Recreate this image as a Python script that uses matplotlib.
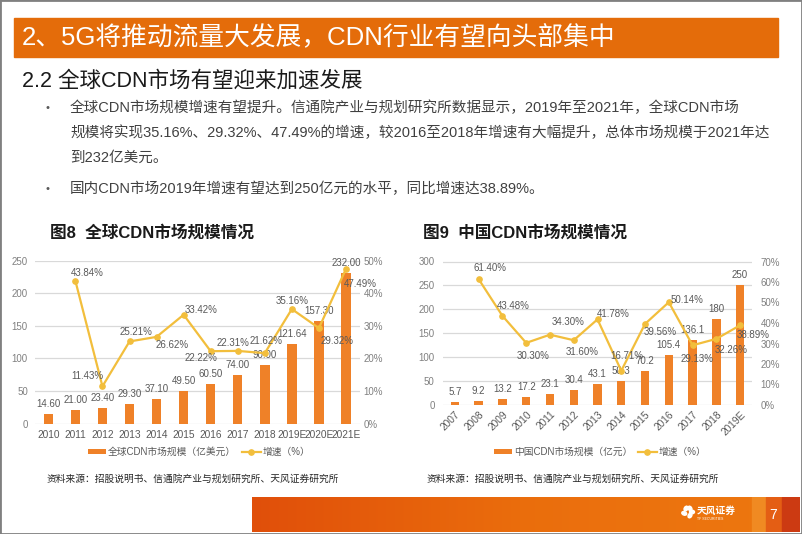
import matplotlib
matplotlib.use('Agg')
import matplotlib.pyplot as plt
from matplotlib.patches import Rectangle, Ellipse
from matplotlib.lines import Line2D
from matplotlib.ticker import FuncFormatter
import numpy as np

plt.rcParams['font.family'] = ['Liberation Sans', 'Noto Sans CJK SC']

# ---------------- data ----------------
global_years = ['2010', '2011', '2012', '2013', '2014', '2015', '2016', '2017',
                '2018', '2019E', '2020E', '2021E']
global_size = [14.60, 21.00, 23.40, 29.30, 37.10, 49.50, 60.50, 74.00, 90.00,
               121.64, 157.30, 232.00]
global_growth = [None, 43.84, 11.43, 25.21, 26.62, 33.42, 22.22, 22.31, 21.62,
                 35.16, 29.32, 47.49]

china_years = ['2007', '2008', '2009', '2010', '2011', '2012', '2013', '2014',
               '2015', '2016', '2017', '2018', '2019E']
china_size = [5.7, 9.2, 13.2, 17.2, 23.1, 30.4, 43.1, 50.3, 70.2, 105.4, 136.1,
              180, 250]
china_growth = [None, 61.40, 43.48, 30.30, 34.30, 31.60, 41.78, 16.71, 39.56,
                50.14, 29.13, 32.26, 38.89]

global_bar_label = '全球CDN市场规模（亿美元）'
china_bar_label = '中国CDN市场规模（亿元）'
growth_label = '增速（%）'

# label offsets in pixels (dx right, dy down)
global_off = [None, (12, -7.5), (-15.5, -10), (6, -9), (15.7, 8.3), (17.7, -4.7),
              (-9.3, 6.4), (-4.7, -8.3), (1.7, -12), (0, -8), (17.7, 13), (14, 14.6)]
china_off = [None, (11, -11), (11, -10), (7, 13), (18, -13), (8, 12), (16, -5),
             (5.5, -15), (15, 8.5), (18.5, -2), (4, 14), (15, 11), (13, 10)]

W, H = 802, 534
BAR = '#EF8128'
LINE = '#F2BE3C'
GRID = '#D9D9D9'
LBL = '#595959'
TICK = '#808080'


def fx(x):
    return x / W


def fy(y):
    return 1 - y / H


fig = plt.figure(figsize=(W / 100, H / 100), dpi=100)
fig.patch.set_facecolor('white')

# --------- header ----------
fig.patches.append(Rectangle((fx(14), fy(57)), (778 - 14) / W, (57 - 18) / H,
                             transform=fig.transFigure, color='#E46C0A', zorder=0))
fig.text(fx(22), fy(38), '2、5G将推动流量大发展，CDN行业有望向头部集中', color='white',
         fontsize=18.5, va='center', ha='left')
fig.text(fx(22), fy(81), '2.2 全球CDN市场有望迎来加速发展', color='#1a1a1a',
         fontsize=15.5, va='center', ha='left')

body = [
    (108, True, '全球CDN市场规模增速有望提升。信通院产业与规划研究所数据显示，2019年至2021年，全球CDN市场'),
    (133, False, '规模将实现35.16%、29.32%、47.49%的增速，较2016至2018年增速有大幅提升，总体市场规模于2021年达'),
    (158, False, '到232亿美元。'),
    (189, True, '国内CDN市场2019年增速有望达到250亿元的水平，同比增速达38.89%。'),
]
for y, bullet, txt in body:
    if bullet:
        fig.text(fx(47), fy(y), '•', color='#595959', fontsize=8, va='center', ha='center')
    fig.text(fx(70), fy(y), txt, color='#404040', fontsize=10.5, va='center', ha='left')

fig.text(fx(50), fy(233), '图8  全球CDN市场规模情况', fontsize=12, fontweight='bold',
         va='center', ha='left', color='#1a1a1a')
fig.text(fx(423), fy(233), '图9  中国CDN市场规模情况', fontsize=12, fontweight='bold',
         va='center', ha='left', color='#1a1a1a')


def make_chart(rect, years, sizes, growth, offs, ymax, ystep, pmax, pstep,
               bar_label, legend_xy, size_fmt, rotate, lpad, rpad, xpad):
    ax = fig.add_axes(rect)
    x = np.arange(len(years))
    bars = ax.bar(x, sizes, width=0.35, color=BAR, zorder=2, label=bar_label)
    ax.set_xlim(-0.5, len(years) - 0.5)
    ax.set_ylim(0, ymax)
    ax.set_yticks(np.arange(0, ymax + 1, ystep))
    ax.yaxis.grid(True, color=GRID, lw=0.9)
    ax.set_axisbelow(True)
    for s in ax.spines.values():
        s.set_visible(False)
    ax.tick_params(axis='y', length=0, labelsize=7, colors=TICK, pad=lpad)
    ax.set_xticks(x)
    if rotate:
        ax.set_xticklabels(years, rotation=45, ha='right', rotation_mode='anchor')
    else:
        ax.set_xticklabels(years)
    ax.tick_params(axis='x', length=0, labelsize=7.3, colors=LBL, pad=xpad)
    for xi, v in zip(x, sizes):
        ax.annotate(size_fmt(v), (xi, v), xytext=(0, 10), textcoords='offset pixels',
                    ha='center', va='center', fontsize=7, color=LBL)

    ax2 = ax.twinx()
    gx = [xi for xi, g in zip(x, growth) if g is not None]
    gy = [g / 100 for g in growth if g is not None]
    ln, = ax2.plot(gx, gy, color=LINE, lw=1.6, marker='o', markersize=3.8, zorder=3,
                   label=growth_label)
    ax2.set_ylim(0, pmax)
    ax2.set_yticks(np.arange(0, pmax + 1e-9, pstep))
    ax2.yaxis.set_major_formatter(FuncFormatter(lambda v, p: f'{v * 100:.0f}%'))
    for s in ax2.spines.values():
        s.set_visible(False)
    ax2.tick_params(axis='y', length=0, labelsize=7, colors=TICK, pad=rpad)
    for xi, g, off in zip(x, growth, offs):
        if g is None:
            continue
        ax2.annotate(f'{g:.2f}%', (xi, g / 100), xytext=(off[0], -off[1]),
                     textcoords='offset pixels', ha='center', va='center',
                     fontsize=7, color=LBL)
    ax2.legend([bars, ln], [bar_label, growth_label], loc='center',
               bbox_to_anchor=(fx(legend_xy[0]), fy(legend_xy[1])),
               bbox_transform=fig.transFigure, ncol=2, frameon=False, fontsize=7,
               handlelength=1.9, handleheight=0.55, handletextpad=0.2,
               columnspacing=0.6, labelcolor=LBL)
    return ax, ax2


make_chart([fx(34.8), fy(423.5), (359.5 - 34.8) / W, (423.5 - 260.8) / H],
           global_years, global_size, global_growth, global_off, 250, 50, 0.5, 0.1,
           global_bar_label, (199, 452), lambda v: f'{v:.2f}', False, 5, 3, 4.5)
make_chart([fx(443), fy(405), (752 - 443) / W, (405 - 261.5) / H],
           china_years, china_size, china_growth, china_off, 300, 50, 0.7, 0.1,
           china_bar_label, (600, 452), lambda v: f'{v:g}', True, 6, 6, 3)

src = '资料来源：招股说明书、信通院产业与规划研究所、天风证券研究所'
fig.text(fx(47), fy(479), src, fontsize=7, color='#262626', va='center', ha='left')
fig.text(fx(427), fy(479), src, fontsize=7, color='#262626', va='center', ha='left')

# --------- footer ----------
fax = fig.add_axes([fx(252), fy(532), (800 - 252) / W, (532 - 497) / H])
t = np.linspace(0, 1, 300)
c0 = np.array([0.88, 0.31, 0.04])
c1 = np.array([0.92, 0.43, 0.05])
c2 = np.array([0.93, 0.47, 0.06])
grad = np.where(t[:, None] < 0.5, c0 + (c1 - c0) * (t[:, None] / 0.5),
                c1 + (c2 - c1) * ((t[:, None] - 0.5) / 0.5))
fax.imshow(grad[None, :, :], aspect='auto', extent=(252, 800, 532, 497))
fax.add_patch(Rectangle((752, 497), 14, 35, color='#F08A22'))
fax.add_patch(Rectangle((766, 497), 16, 35, color='#E45E14'))
fax.add_patch(Rectangle((782, 497), 18, 35, color='#CC3A12'))
fax.set_xlim(252, 800)
fax.set_ylim(532, 497)
fax.axis('off')
# logo
for ang in (0, 60, 120, 200, 300):
    r = np.deg2rad(ang)
    fax.add_patch(Ellipse((688 + 4 * np.cos(r), 512 - 4 * np.sin(r)), 5, 3.5,
                          angle=ang, color='white'))
fax.text(697, 511, '天风证券', color='white', fontsize=7, fontweight='bold',
         va='center', ha='left')
fax.text(697, 519, 'TF SECURITIES', color='white', fontsize=2.5, va='center', ha='left')
fax.text(773, 515, '7', color='white', fontsize=10, va='center', ha='center')

# slide border
fig.patches.append(Rectangle((0, 0), 1, 1, transform=fig.transFigure, fill=False,
                             edgecolor='#808080', lw=2, zorder=10))

fig.savefig('out.png', dpi=100)
